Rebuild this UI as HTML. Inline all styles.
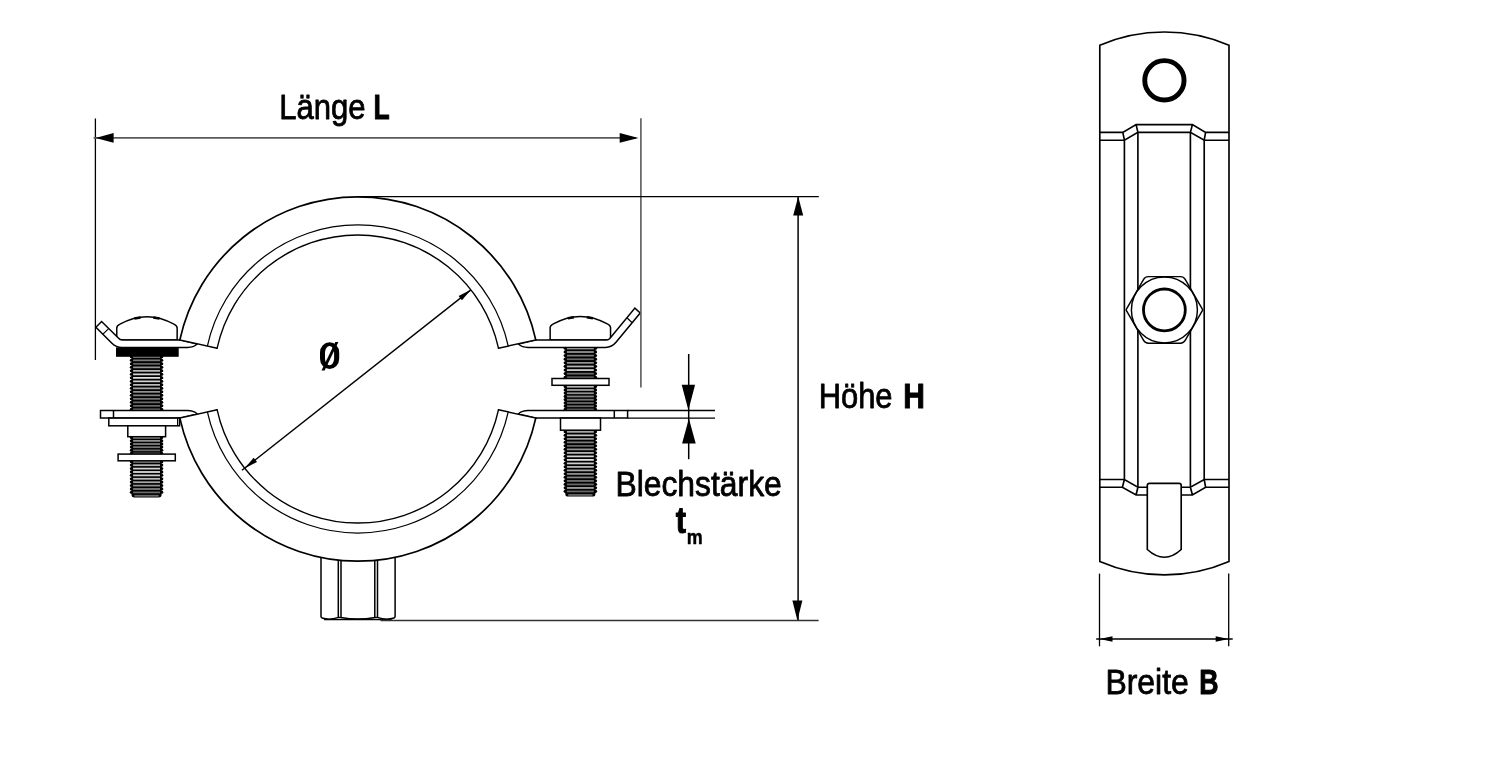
<!DOCTYPE html>
<html><head><meta charset="utf-8"><title>Rohrschelle</title>
<style>
html,body{margin:0;padding:0;background:#fff;}
body{width:1500px;height:771px;overflow:hidden;}
svg{display:block;will-change:transform;transform:translateZ(0);}
text{font-family:"Liberation Sans",sans-serif;fill:#000;}
</style></head><body>
<svg width="1500" height="771" viewBox="0 0 1500 771">
<rect width="1500" height="771" fill="#fff"/>
<!-- threads -->
<rect x="131.50" y="355.00" width="30.10" height="56.00" fill="#000"/>
<line x1="131.35" y1="356.75" x2="161.75" y2="356.75" stroke="#000" stroke-width="3.1" stroke-linecap="round"/>
<line x1="131.35" y1="360.25" x2="161.75" y2="360.25" stroke="#000" stroke-width="3.1" stroke-linecap="round"/>
<line x1="131.35" y1="363.75" x2="161.75" y2="363.75" stroke="#000" stroke-width="3.1" stroke-linecap="round"/>
<line x1="131.35" y1="367.25" x2="161.75" y2="367.25" stroke="#000" stroke-width="3.1" stroke-linecap="round"/>
<line x1="131.35" y1="370.75" x2="161.75" y2="370.75" stroke="#000" stroke-width="3.1" stroke-linecap="round"/>
<line x1="131.35" y1="374.25" x2="161.75" y2="374.25" stroke="#000" stroke-width="3.1" stroke-linecap="round"/>
<line x1="131.35" y1="377.75" x2="161.75" y2="377.75" stroke="#000" stroke-width="3.1" stroke-linecap="round"/>
<line x1="131.35" y1="381.25" x2="161.75" y2="381.25" stroke="#000" stroke-width="3.1" stroke-linecap="round"/>
<line x1="131.35" y1="384.75" x2="161.75" y2="384.75" stroke="#000" stroke-width="3.1" stroke-linecap="round"/>
<line x1="131.35" y1="388.25" x2="161.75" y2="388.25" stroke="#000" stroke-width="3.1" stroke-linecap="round"/>
<line x1="131.35" y1="391.75" x2="161.75" y2="391.75" stroke="#000" stroke-width="3.1" stroke-linecap="round"/>
<line x1="131.35" y1="395.25" x2="161.75" y2="395.25" stroke="#000" stroke-width="3.1" stroke-linecap="round"/>
<line x1="131.35" y1="398.75" x2="161.75" y2="398.75" stroke="#000" stroke-width="3.1" stroke-linecap="round"/>
<line x1="131.35" y1="402.25" x2="161.75" y2="402.25" stroke="#000" stroke-width="3.1" stroke-linecap="round"/>
<line x1="131.35" y1="405.75" x2="161.75" y2="405.75" stroke="#000" stroke-width="3.1" stroke-linecap="round"/>
<line x1="131.35" y1="409.25" x2="161.75" y2="409.25" stroke="#000" stroke-width="3.1" stroke-linecap="round"/>
<line x1="133.10" y1="356.85" x2="160.00" y2="356.85" stroke="#989898" stroke-width="1.75"/>
<line x1="133.10" y1="360.35" x2="160.00" y2="360.35" stroke="#7c7c7c" stroke-width="1.75"/>
<line x1="133.10" y1="363.85" x2="160.00" y2="363.85" stroke="#666666" stroke-width="1.75"/>
<line x1="133.10" y1="367.35" x2="160.00" y2="367.35" stroke="#949494" stroke-width="1.75"/>
<line x1="133.10" y1="370.85" x2="160.00" y2="370.85" stroke="#b6b6b6" stroke-width="1.75"/>
<line x1="133.10" y1="374.35" x2="160.00" y2="374.35" stroke="#d4d4d4" stroke-width="1.75"/>
<line x1="133.10" y1="377.85" x2="160.00" y2="377.85" stroke="#e2e2e2" stroke-width="1.75"/>
<line x1="133.10" y1="381.35" x2="160.00" y2="381.35" stroke="#d0d0d0" stroke-width="1.75"/>
<line x1="133.10" y1="384.85" x2="160.00" y2="384.85" stroke="#bcbcbc" stroke-width="1.75"/>
<line x1="133.10" y1="388.35" x2="160.00" y2="388.35" stroke="#a6a6a6" stroke-width="1.75"/>
<line x1="133.10" y1="391.85" x2="160.00" y2="391.85" stroke="#929292" stroke-width="1.75"/>
<line x1="133.10" y1="395.35" x2="160.00" y2="395.35" stroke="#828282" stroke-width="1.75"/>
<line x1="133.10" y1="398.85" x2="160.00" y2="398.85" stroke="#747474" stroke-width="1.75"/>
<line x1="133.10" y1="402.35" x2="160.00" y2="402.35" stroke="#6a6a6a" stroke-width="1.75"/>
<line x1="133.10" y1="405.85" x2="160.00" y2="405.85" stroke="#6a6a6a" stroke-width="1.75"/>
<line x1="133.10" y1="409.35" x2="160.00" y2="409.35" stroke="#6a6a6a" stroke-width="1.75"/>
<rect x="131.50" y="436.00" width="30.10" height="19.00" fill="#000"/>
<line x1="131.35" y1="437.58" x2="161.75" y2="437.58" stroke="#000" stroke-width="3.1" stroke-linecap="round"/>
<line x1="131.35" y1="440.75" x2="161.75" y2="440.75" stroke="#000" stroke-width="3.1" stroke-linecap="round"/>
<line x1="131.35" y1="443.92" x2="161.75" y2="443.92" stroke="#000" stroke-width="3.1" stroke-linecap="round"/>
<line x1="131.35" y1="447.08" x2="161.75" y2="447.08" stroke="#000" stroke-width="3.1" stroke-linecap="round"/>
<line x1="131.35" y1="450.25" x2="161.75" y2="450.25" stroke="#000" stroke-width="3.1" stroke-linecap="round"/>
<line x1="131.35" y1="453.42" x2="161.75" y2="453.42" stroke="#000" stroke-width="3.1" stroke-linecap="round"/>
<line x1="133.10" y1="437.68" x2="160.00" y2="437.68" stroke="#a6a6a6" stroke-width="1.75"/>
<line x1="133.10" y1="440.85" x2="160.00" y2="440.85" stroke="#929292" stroke-width="1.75"/>
<line x1="133.10" y1="444.02" x2="160.00" y2="444.02" stroke="#828282" stroke-width="1.75"/>
<line x1="133.10" y1="447.18" x2="160.00" y2="447.18" stroke="#747474" stroke-width="1.75"/>
<line x1="133.10" y1="450.35" x2="160.00" y2="450.35" stroke="#6a6a6a" stroke-width="1.75"/>
<line x1="133.10" y1="453.52" x2="160.00" y2="453.52" stroke="#6a6a6a" stroke-width="1.75"/>
<path d="M131.50,460.00 H161.60 V494.80 Q161.60,497.40 158.70,497.40 H134.40 Q131.50,497.40 131.50,494.80 Z" fill="#000"/>
<line x1="131.35" y1="461.70" x2="161.75" y2="461.70" stroke="#000" stroke-width="3.1" stroke-linecap="round"/>
<line x1="131.35" y1="465.10" x2="161.75" y2="465.10" stroke="#000" stroke-width="3.1" stroke-linecap="round"/>
<line x1="131.35" y1="468.50" x2="161.75" y2="468.50" stroke="#000" stroke-width="3.1" stroke-linecap="round"/>
<line x1="131.35" y1="471.90" x2="161.75" y2="471.90" stroke="#000" stroke-width="3.1" stroke-linecap="round"/>
<line x1="131.35" y1="475.30" x2="161.75" y2="475.30" stroke="#000" stroke-width="3.1" stroke-linecap="round"/>
<line x1="131.35" y1="478.70" x2="161.75" y2="478.70" stroke="#000" stroke-width="3.1" stroke-linecap="round"/>
<line x1="131.35" y1="482.10" x2="161.75" y2="482.10" stroke="#000" stroke-width="3.1" stroke-linecap="round"/>
<line x1="131.35" y1="485.50" x2="161.75" y2="485.50" stroke="#000" stroke-width="3.1" stroke-linecap="round"/>
<line x1="131.35" y1="488.90" x2="161.75" y2="488.90" stroke="#000" stroke-width="3.1" stroke-linecap="round"/>
<line x1="131.35" y1="492.30" x2="161.75" y2="492.30" stroke="#000" stroke-width="3.1" stroke-linecap="round"/>
<line x1="133.10" y1="461.80" x2="160.00" y2="461.80" stroke="#949494" stroke-width="1.75"/>
<line x1="133.10" y1="465.20" x2="160.00" y2="465.20" stroke="#b6b6b6" stroke-width="1.75"/>
<line x1="133.10" y1="468.60" x2="160.00" y2="468.60" stroke="#d4d4d4" stroke-width="1.75"/>
<line x1="133.10" y1="472.00" x2="160.00" y2="472.00" stroke="#e2e2e2" stroke-width="1.75"/>
<line x1="133.10" y1="475.40" x2="160.00" y2="475.40" stroke="#d0d0d0" stroke-width="1.75"/>
<line x1="133.10" y1="478.80" x2="160.00" y2="478.80" stroke="#bcbcbc" stroke-width="1.75"/>
<line x1="133.10" y1="482.20" x2="160.00" y2="482.20" stroke="#a6a6a6" stroke-width="1.75"/>
<line x1="133.10" y1="485.60" x2="160.00" y2="485.60" stroke="#929292" stroke-width="1.75"/>
<line x1="133.10" y1="489.00" x2="160.00" y2="489.00" stroke="#828282" stroke-width="1.75"/>
<line x1="133.10" y1="492.40" x2="160.00" y2="492.40" stroke="#6a6a6a" stroke-width="1.75"/>
<line x1="134.40" y1="495.80" x2="158.70" y2="495.80" stroke="#6a6a6a" stroke-width="1.75"/>
<rect x="565.30" y="346.50" width="30.10" height="32.50" fill="#000"/>
<line x1="565.15" y1="348.31" x2="595.55" y2="348.31" stroke="#000" stroke-width="3.1" stroke-linecap="round"/>
<line x1="565.15" y1="351.92" x2="595.55" y2="351.92" stroke="#000" stroke-width="3.1" stroke-linecap="round"/>
<line x1="565.15" y1="355.53" x2="595.55" y2="355.53" stroke="#000" stroke-width="3.1" stroke-linecap="round"/>
<line x1="565.15" y1="359.14" x2="595.55" y2="359.14" stroke="#000" stroke-width="3.1" stroke-linecap="round"/>
<line x1="565.15" y1="362.75" x2="595.55" y2="362.75" stroke="#000" stroke-width="3.1" stroke-linecap="round"/>
<line x1="565.15" y1="366.36" x2="595.55" y2="366.36" stroke="#000" stroke-width="3.1" stroke-linecap="round"/>
<line x1="565.15" y1="369.97" x2="595.55" y2="369.97" stroke="#000" stroke-width="3.1" stroke-linecap="round"/>
<line x1="565.15" y1="373.58" x2="595.55" y2="373.58" stroke="#000" stroke-width="3.1" stroke-linecap="round"/>
<line x1="565.15" y1="377.19" x2="595.55" y2="377.19" stroke="#000" stroke-width="3.1" stroke-linecap="round"/>
<line x1="566.90" y1="348.41" x2="593.80" y2="348.41" stroke="#c4c4c4" stroke-width="1.75"/>
<line x1="566.90" y1="352.02" x2="593.80" y2="352.02" stroke="#989898" stroke-width="1.75"/>
<line x1="566.90" y1="355.63" x2="593.80" y2="355.63" stroke="#7c7c7c" stroke-width="1.75"/>
<line x1="566.90" y1="359.24" x2="593.80" y2="359.24" stroke="#666666" stroke-width="1.75"/>
<line x1="566.90" y1="362.85" x2="593.80" y2="362.85" stroke="#949494" stroke-width="1.75"/>
<line x1="566.90" y1="366.46" x2="593.80" y2="366.46" stroke="#b6b6b6" stroke-width="1.75"/>
<line x1="566.90" y1="370.07" x2="593.80" y2="370.07" stroke="#d4d4d4" stroke-width="1.75"/>
<line x1="566.90" y1="373.68" x2="593.80" y2="373.68" stroke="#6a6a6a" stroke-width="1.75"/>
<line x1="566.90" y1="377.29" x2="593.80" y2="377.29" stroke="#6a6a6a" stroke-width="1.75"/>
<rect x="565.30" y="385.00" width="30.10" height="26.00" fill="#000"/>
<line x1="565.15" y1="386.62" x2="595.55" y2="386.62" stroke="#000" stroke-width="3.1" stroke-linecap="round"/>
<line x1="565.15" y1="389.88" x2="595.55" y2="389.88" stroke="#000" stroke-width="3.1" stroke-linecap="round"/>
<line x1="565.15" y1="393.12" x2="595.55" y2="393.12" stroke="#000" stroke-width="3.1" stroke-linecap="round"/>
<line x1="565.15" y1="396.38" x2="595.55" y2="396.38" stroke="#000" stroke-width="3.1" stroke-linecap="round"/>
<line x1="565.15" y1="399.62" x2="595.55" y2="399.62" stroke="#000" stroke-width="3.1" stroke-linecap="round"/>
<line x1="565.15" y1="402.88" x2="595.55" y2="402.88" stroke="#000" stroke-width="3.1" stroke-linecap="round"/>
<line x1="565.15" y1="406.12" x2="595.55" y2="406.12" stroke="#000" stroke-width="3.1" stroke-linecap="round"/>
<line x1="565.15" y1="409.38" x2="595.55" y2="409.38" stroke="#000" stroke-width="3.1" stroke-linecap="round"/>
<line x1="566.90" y1="386.73" x2="593.80" y2="386.73" stroke="#bcbcbc" stroke-width="1.75"/>
<line x1="566.90" y1="389.98" x2="593.80" y2="389.98" stroke="#a6a6a6" stroke-width="1.75"/>
<line x1="566.90" y1="393.23" x2="593.80" y2="393.23" stroke="#929292" stroke-width="1.75"/>
<line x1="566.90" y1="396.48" x2="593.80" y2="396.48" stroke="#828282" stroke-width="1.75"/>
<line x1="566.90" y1="399.73" x2="593.80" y2="399.73" stroke="#747474" stroke-width="1.75"/>
<line x1="566.90" y1="402.98" x2="593.80" y2="402.98" stroke="#6a6a6a" stroke-width="1.75"/>
<line x1="566.90" y1="406.23" x2="593.80" y2="406.23" stroke="#6a6a6a" stroke-width="1.75"/>
<line x1="566.90" y1="409.48" x2="593.80" y2="409.48" stroke="#6a6a6a" stroke-width="1.75"/>
<path d="M565.30,430.00 H595.40 V494.00 Q595.40,496.60 592.50,496.60 H568.20 Q565.30,496.60 565.30,494.00 Z" fill="#000"/>
<line x1="565.15" y1="431.75" x2="595.55" y2="431.75" stroke="#000" stroke-width="3.1" stroke-linecap="round"/>
<line x1="565.15" y1="435.26" x2="595.55" y2="435.26" stroke="#000" stroke-width="3.1" stroke-linecap="round"/>
<line x1="565.15" y1="438.76" x2="595.55" y2="438.76" stroke="#000" stroke-width="3.1" stroke-linecap="round"/>
<line x1="565.15" y1="442.27" x2="595.55" y2="442.27" stroke="#000" stroke-width="3.1" stroke-linecap="round"/>
<line x1="565.15" y1="445.77" x2="595.55" y2="445.77" stroke="#000" stroke-width="3.1" stroke-linecap="round"/>
<line x1="565.15" y1="449.28" x2="595.55" y2="449.28" stroke="#000" stroke-width="3.1" stroke-linecap="round"/>
<line x1="565.15" y1="452.78" x2="595.55" y2="452.78" stroke="#000" stroke-width="3.1" stroke-linecap="round"/>
<line x1="565.15" y1="456.29" x2="595.55" y2="456.29" stroke="#000" stroke-width="3.1" stroke-linecap="round"/>
<line x1="565.15" y1="459.79" x2="595.55" y2="459.79" stroke="#000" stroke-width="3.1" stroke-linecap="round"/>
<line x1="565.15" y1="463.30" x2="595.55" y2="463.30" stroke="#000" stroke-width="3.1" stroke-linecap="round"/>
<line x1="565.15" y1="466.81" x2="595.55" y2="466.81" stroke="#000" stroke-width="3.1" stroke-linecap="round"/>
<line x1="565.15" y1="470.31" x2="595.55" y2="470.31" stroke="#000" stroke-width="3.1" stroke-linecap="round"/>
<line x1="565.15" y1="473.82" x2="595.55" y2="473.82" stroke="#000" stroke-width="3.1" stroke-linecap="round"/>
<line x1="565.15" y1="477.32" x2="595.55" y2="477.32" stroke="#000" stroke-width="3.1" stroke-linecap="round"/>
<line x1="565.15" y1="480.83" x2="595.55" y2="480.83" stroke="#000" stroke-width="3.1" stroke-linecap="round"/>
<line x1="565.15" y1="484.33" x2="595.55" y2="484.33" stroke="#000" stroke-width="3.1" stroke-linecap="round"/>
<line x1="565.15" y1="487.84" x2="595.55" y2="487.84" stroke="#000" stroke-width="3.1" stroke-linecap="round"/>
<line x1="565.15" y1="491.34" x2="595.55" y2="491.34" stroke="#000" stroke-width="3.1" stroke-linecap="round"/>
<line x1="566.90" y1="431.85" x2="593.80" y2="431.85" stroke="#a8a8a8" stroke-width="1.75"/>
<line x1="566.90" y1="435.36" x2="593.80" y2="435.36" stroke="#c4c4c4" stroke-width="1.75"/>
<line x1="566.90" y1="438.86" x2="593.80" y2="438.86" stroke="#989898" stroke-width="1.75"/>
<line x1="566.90" y1="442.37" x2="593.80" y2="442.37" stroke="#7c7c7c" stroke-width="1.75"/>
<line x1="566.90" y1="445.87" x2="593.80" y2="445.87" stroke="#666666" stroke-width="1.75"/>
<line x1="566.90" y1="449.38" x2="593.80" y2="449.38" stroke="#949494" stroke-width="1.75"/>
<line x1="566.90" y1="452.88" x2="593.80" y2="452.88" stroke="#b6b6b6" stroke-width="1.75"/>
<line x1="566.90" y1="456.39" x2="593.80" y2="456.39" stroke="#d4d4d4" stroke-width="1.75"/>
<line x1="566.90" y1="459.89" x2="593.80" y2="459.89" stroke="#e2e2e2" stroke-width="1.75"/>
<line x1="566.90" y1="463.40" x2="593.80" y2="463.40" stroke="#d0d0d0" stroke-width="1.75"/>
<line x1="566.90" y1="466.91" x2="593.80" y2="466.91" stroke="#bcbcbc" stroke-width="1.75"/>
<line x1="566.90" y1="470.41" x2="593.80" y2="470.41" stroke="#a6a6a6" stroke-width="1.75"/>
<line x1="566.90" y1="473.92" x2="593.80" y2="473.92" stroke="#929292" stroke-width="1.75"/>
<line x1="566.90" y1="477.42" x2="593.80" y2="477.42" stroke="#828282" stroke-width="1.75"/>
<line x1="566.90" y1="480.93" x2="593.80" y2="480.93" stroke="#747474" stroke-width="1.75"/>
<line x1="566.90" y1="484.43" x2="593.80" y2="484.43" stroke="#6a6a6a" stroke-width="1.75"/>
<line x1="566.90" y1="487.94" x2="593.80" y2="487.94" stroke="#a8a8a8" stroke-width="1.75"/>
<line x1="566.90" y1="491.44" x2="593.80" y2="491.44" stroke="#6a6a6a" stroke-width="1.75"/>
<line x1="568.20" y1="494.95" x2="592.50" y2="494.95" stroke="#6a6a6a" stroke-width="1.75"/>
<path d="M116.75,339.90 V328.00 Q116.75,325.80 119.95,324.20 C127.75,320.00 136.95,316.80 146.95,316.80 C156.95,316.80 166.15,320.00 173.95,324.20 Q177.15,325.80 177.15,328.00 V339.90 Z" fill="#fff" stroke="#000" stroke-width="1.5" stroke-linejoin="round"/><line x1="134.35" y1="318.55" x2="140.55" y2="317.55" stroke="#000" stroke-width="2.5"/><line x1="153.35" y1="317.55" x2="159.55" y2="318.55" stroke="#000" stroke-width="2.5"/>
<path d="M550.15,339.90 V327.60 Q550.15,325.40 553.35,323.80 C561.15,319.60 570.35,316.40 580.35,316.40 C590.35,316.40 599.55,319.60 607.35,323.80 Q610.55,325.40 610.55,327.60 V339.90 Z" fill="#fff" stroke="#000" stroke-width="1.5" stroke-linejoin="round"/><line x1="567.75" y1="318.15" x2="573.95" y2="317.15" stroke="#000" stroke-width="2.5"/><line x1="586.75" y1="317.15" x2="592.95" y2="318.15" stroke="#000" stroke-width="2.5"/>
<rect x="116.0" y="347.4" width="62.7" height="9.4" fill="#000"/>
<path d="M179.84,339.9 H122.2 Q120.0,339.9 118.6,338.3 L101.6,321.5 L95.9,327.2 L111.9,343.2 Q116.1,347.4 122.0,347.4 H187.5 Q193.5,347.4 197.3,344.0 Z" fill="#fff" stroke="#000" stroke-width="1.5" stroke-linejoin="miter"/>
<line x1="108.6" y1="328.6" x2="103.0" y2="334.2" stroke="#000" stroke-width="1.2"/>
<path d="M535.76,339.9 H606.6 Q608.5,339.9 609.8,338.4 L634.9,308.1 L640.2,313.0 L616.2,342.0 Q611.9,347.4 605.5,347.4 H528.1 Q522.1,347.4 518.3,344.0 Z" fill="#fff" stroke="#000" stroke-width="1.5"/>
<line x1="626.9" y1="317.8" x2="632.2" y2="322.7" stroke="#000" stroke-width="1.2"/>
<path d="M179.84,418.1 H100.5 V410.5 H187.5 Q193.5,410.5 197.3,414.0 Z" fill="#fff" stroke="#000" stroke-width="1.5"/>
<line x1="113.5" y1="410.5" x2="113.5" y2="418.1" stroke="#000" stroke-width="1.5"/>
<rect x="108.80" y="418.10" width="70.80" height="7.70" fill="#fff" stroke="#000" stroke-width="1.5"/>
<line x1="177.6" y1="418.1" x2="177.6" y2="425.8" stroke="#000" stroke-width="1.2"/>
<rect x="127.80" y="425.80" width="37.80" height="10.90" fill="#fff" stroke="#000" stroke-width="1.5"/>
<rect x="118.10" y="454.10" width="57.20" height="6.70" fill="#fff" stroke="#000" stroke-width="1.5"/>
<path d="M535.76,418.1 H627.6 V410.5 H528.1 Q522.1,410.5 518.3,414.0 Z" fill="#fff" stroke="#000" stroke-width="1.5"/>
<line x1="614.3" y1="410.5" x2="614.3" y2="418.1" stroke="#000" stroke-width="1.5"/>
<line x1="627.6" y1="410.5" x2="715" y2="410.5" stroke="#000" stroke-width="1.3"/>
<line x1="627.6" y1="418.1" x2="715" y2="418.1" stroke="#000" stroke-width="1.3"/>
<rect x="560.50" y="418.10" width="40.00" height="12.10" fill="#fff" stroke="#000" stroke-width="1.5"/>
<rect x="552.00" y="378.50" width="57.00" height="6.80" fill="#fff" stroke="#000" stroke-width="1.5"/>
<path d="M321.0,550 V616.6 Q321.0,617.4 322.2,618.0 Q329.65,620.6 338.3,617.4 V550 M341.0,550 V617.4 Q357.9,620.8 374.8,617.4 V550 M377.5,550 V617.4 Q386.3,620.6 393.90000000000003,618.0 Q395.1,617.4 395.1,616.6 V550" fill="#fff" stroke="#000" stroke-width="1.5"/>
<path d="M338.3,617.4 H341.0 M374.8,617.4 H377.5" stroke="#000" stroke-width="1.2" fill="none"/>
<line x1="324.0" y1="619.5" x2="391.6" y2="619.5" stroke="#000" stroke-width="1.5"/>
<path d="M179.84,339.90 A182.2,182.2 0 0 1 535.76,339.90 L498.47,348.20 A144.0,144.0 0 0 0 217.13,348.20 Z" fill="#fff" stroke="none"/>
<path d="M179.84,339.90 A182.2,182.2 0 0 1 535.76,339.90" fill="none" stroke="#000" stroke-width="1.7" stroke-linecap="round"/>
<path d="M217.13,348.20 A144.0,144.0 0 0 1 498.47,348.20" fill="none" stroke="#000" stroke-width="1.4" stroke-linecap="round"/>
<path d="M207.37,346.03 A154.0,154.0 0 0 1 508.23,346.03" fill="none" stroke="#000" stroke-width="1.25"/>
<path d="M179.84,339.90 L217.13,348.20 M535.76,339.90 L498.47,348.20" fill="none" stroke="#000" stroke-width="1.45" stroke-linecap="round"/>
<path d="M179.84,418.10 A182.2,182.2 0 0 0 535.76,418.10 L498.47,409.80 A144.0,144.0 0 0 1 217.13,409.80 Z" fill="#fff" stroke="none"/>
<path d="M179.84,418.10 A182.2,182.2 0 0 0 535.76,418.10" fill="none" stroke="#000" stroke-width="1.7" stroke-linecap="round"/>
<path d="M217.13,409.80 A144.0,144.0 0 0 0 498.47,409.80" fill="none" stroke="#000" stroke-width="1.4" stroke-linecap="round"/>
<path d="M207.37,411.97 A154.0,154.0 0 0 0 508.23,411.97" fill="none" stroke="#000" stroke-width="1.25"/>
<path d="M179.84,418.10 L217.13,409.80 M535.76,418.10 L498.47,409.80" fill="none" stroke="#000" stroke-width="1.45" stroke-linecap="round"/>
<line x1="95.4" y1="118.5" x2="95.4" y2="360" stroke="#000" stroke-width="1.3"/>
<line x1="640.9" y1="118.2" x2="640.9" y2="387.5" stroke="#5a5a5a" stroke-width="1.6"/>
<line x1="93.6" y1="137.9" x2="636.0" y2="137.9" stroke="#5a5a5a" stroke-width="1.75"/>
<polygon points="95.60,137.90 113.60,133.00 113.60,142.80" fill="#000"/>
<polygon points="638.50,137.90 619.70,142.80 619.70,133.00" fill="#000"/>
<line x1="357.8" y1="196.6" x2="818.8" y2="196.6" stroke="#000" stroke-width="1.15"/>
<line x1="380.5" y1="620.6" x2="818.6" y2="620.6" stroke="#333" stroke-width="1.5"/>
<line x1="798.1" y1="197" x2="798.1" y2="620" stroke="#000" stroke-width="1.5"/>
<polygon points="798.20,196.60 803.20,215.60 793.20,215.60" fill="#000"/>
<polygon points="797.40,620.40 792.40,600.40 802.40,600.40" fill="#000"/>
<line x1="688.7" y1="354" x2="688.7" y2="459.2" stroke="#000" stroke-width="1.5"/>
<polygon points="688.40,410.20 681.70,384.80 695.10,384.80" fill="#000"/>
<polygon points="688.90,418.40 695.70,443.60 682.10,443.60" fill="#000"/>
<line x1="241.96" y1="470.30" x2="470.89" y2="289.86" stroke="#000" stroke-width="1.4"/>
<polygon points="244.71,468.14 253.64,457.66 256.98,461.90" fill="#000"/>
<polygon points="470.89,289.86 461.96,300.34 458.62,296.10" fill="#000"/>
<path d="M1099.8,45.2 A164.7,164.7 0 0 1 1229.0,45.2 V561.5 A162.4,162.4 0 0 1 1099.8,561.5 Z" fill="#fff" stroke="#000" stroke-width="1.65"/>
<circle cx="1164.4" cy="80.3" r="19.65" fill="none" stroke="#000" stroke-width="4.9"/>
<line x1="1124.4" y1="140.2" x2="1124.4" y2="479.5" stroke="#000" stroke-width="1.65"/>
<line x1="1137.9" y1="132.4" x2="1137.9" y2="487.2" stroke="#000" stroke-width="1.65"/>
<line x1="1190.4" y1="132.4" x2="1190.4" y2="487.2" stroke="#000" stroke-width="1.65"/>
<line x1="1204.2" y1="140.2" x2="1204.2" y2="479.5" stroke="#000" stroke-width="1.65"/>
<path d="M1099.8,132.4 H1122.8 L1136.1,124.6 H1192.4 L1205.6,132.4 H1229.0 M1099.8,140.2 H1124.4 L1137.9,132.4 H1190.4 L1204.2,140.2 H1229.0 M1122.8,132.4 L1124.4,140.2 M1136.1,124.6 L1137.9,132.4 M1192.4,124.6 L1190.4,132.4 M1205.6,132.4 L1204.2,140.2" fill="none" stroke="#000" stroke-width="1.65"/>
<path d="M1099.8,479.5 H1124.4 L1137.9,487.2 H1190.4 L1204.2,479.5 H1229.0 M1099.8,487.2 H1122.4 L1136.1,495.0 H1192.4 L1205.6,487.2 H1229.0 M1124.4,479.5 L1122.4,487.2 M1137.9,487.2 L1136.1,495.0 M1190.4,487.2 L1192.4,495.0 M1204.2,479.5 L1205.6,487.2" fill="none" stroke="#000" stroke-width="1.65"/>
<path d="M1147.3,549.5 V485.5 Q1147.3,483.3 1149.5,483.3 H1179.0 Q1181.2,483.3 1181.2,485.5 V549.5 Q1164.4,565.0 1147.3,549.5 Z" fill="#fff" stroke="#000" stroke-width="1.65"/>
<path d="M1126.30,310.42 Q1126.00,309.90 1126.30,309.38 L1143.60,279.42 Q1145.20,276.64 1148.40,276.64 L1180.40,276.64 Q1183.60,276.64 1185.20,279.42 L1202.50,309.38 Q1202.80,309.90 1202.50,310.42 L1185.20,340.38 Q1183.60,343.16 1180.40,343.16 L1148.40,343.16 Q1145.20,343.16 1143.60,340.38 Z" fill="#fff" stroke="#000" stroke-width="1.45" stroke-linejoin="round"/>
<circle cx="1164.4" cy="309.9" r="33.0" fill="none" stroke="#000" stroke-width="1.45"/>
<circle cx="1164.4" cy="309.9" r="20.9" fill="none" stroke="#000" stroke-width="2.8"/>
<line x1="1099.5" y1="573.6" x2="1099.5" y2="646.3" stroke="#000" stroke-width="1.3"/>
<line x1="1228.7" y1="573.6" x2="1228.7" y2="646.3" stroke="#000" stroke-width="1.3"/>
<line x1="1096.2" y1="639.0" x2="1232.7" y2="639.0" stroke="#000" stroke-width="1.4"/>
<polygon points="1099.50,639.00 1112.50,636.20 1112.50,641.80" fill="#000"/>
<polygon points="1228.70,639.00 1215.70,641.80 1215.70,636.20" fill="#000"/>
<path fill-rule="evenodd" d="M329.6,342.3 H329.59999999999997 A9.6,10.2 0 0 1 339.2,352.5 V358.7 A9.6,10.2 0 0 1 329.59999999999997,368.9 H329.6 A9.6,10.2 0 0 1 320.0,358.7 V352.5 A9.6,10.2 0 0 1 329.6,342.3 Z M329.55,346.0 H329.55 A4.55,6.6 0 0 1 334.1,352.6 V358.59999999999997 A4.55,6.6 0 0 1 329.55,365.2 H329.55 A4.55,6.6 0 0 1 325.0,358.59999999999997 V352.6 A4.55,6.6 0 0 1 329.55,346.0 Z " fill="#000"/>
<polygon points="321.5,370.6 324.6,370.6 338.4,341.9 335.3,341.9" fill="#000"/>
<text id="L1" x="279.18" y="118.8" font-size="35.0" font-weight="400" stroke="#000" stroke-width="0.8" stroke-linejoin="round" textLength="86.36" lengthAdjust="spacingAndGlyphs">Länge</text>
<text id="L2" x="373.62" y="118.8" font-size="35.6" font-weight="700" stroke="#000" stroke-width="1.0" stroke-linejoin="round" textLength="16.18" lengthAdjust="spacingAndGlyphs">L</text>
<text id="H1" x="818.66" y="407.7" font-size="35.0" font-weight="400" stroke="#000" stroke-width="0.8" stroke-linejoin="round" textLength="73.88" lengthAdjust="spacingAndGlyphs">Höhe</text>
<text id="H2" x="903.32" y="407.7" font-size="35.6" font-weight="700" stroke="#000" stroke-width="1.0" stroke-linejoin="round" textLength="21.64" lengthAdjust="spacingAndGlyphs">H</text>
<text id="B1" x="615.46" y="495.9" font-size="35.0" font-weight="400" stroke="#000" stroke-width="0.8" stroke-linejoin="round" textLength="166.31" lengthAdjust="spacingAndGlyphs">Blechstärke</text>
<text id="T1" x="675.75" y="532.6" font-size="36.0" font-weight="700" stroke="#000" stroke-width="1.0" stroke-linejoin="round" textLength="10.26" lengthAdjust="spacingAndGlyphs">t</text>
<text id="M1" x="686.65" y="544.2" font-size="21.0" font-weight="700" stroke="#000" stroke-width="0.5" stroke-linejoin="round" textLength="15.93" lengthAdjust="spacingAndGlyphs">m</text>
<text id="W1" x="1105.41" y="694.3" font-size="35.0" font-weight="400" stroke="#000" stroke-width="0.8" stroke-linejoin="round" textLength="83.38" lengthAdjust="spacingAndGlyphs">Breite</text>
<text id="W2" x="1199.36" y="694.3" font-size="35.6" font-weight="700" stroke="#000" stroke-width="1.0" stroke-linejoin="round" textLength="19.24" lengthAdjust="spacingAndGlyphs">B</text>
</svg>
</body></html>
